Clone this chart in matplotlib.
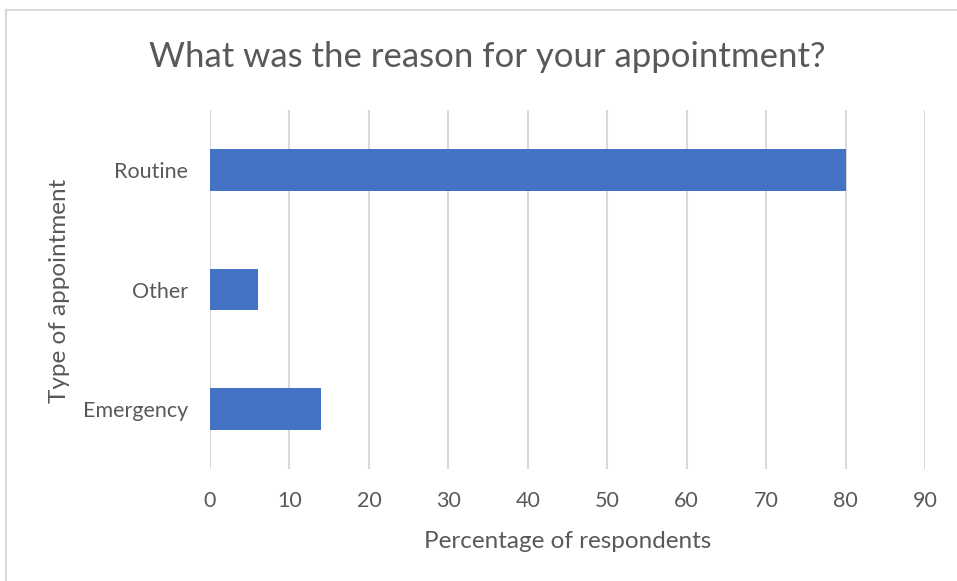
import matplotlib
matplotlib.use("Agg")
import matplotlib.pyplot as plt
from matplotlib.lines import Line2D

categories = ["Emergency", "Other", "Routine"]
values = [14, 6, 80]
xticks = [0, 10, 20, 30, 40, 50, 60, 70, 80, 90]

plt.rcParams['font.family'] = ['Lato', 'DejaVu Sans']
TXT = '#595959'

W, H = 957, 581
fig = plt.figure(figsize=(W / 100, H / 100), dpi=100)
ax = fig.add_axes([210 / W, 1 - 469 / H, (925 - 210) / W, (469 - 110) / H])

ax.barh(range(len(categories)), values, height=0.35, color='#4472C4', zorder=3)
ax.set_xlim(0, 90)
ax.set_ylim(-0.5, len(categories) - 0.5)
ax.set_xticks(xticks)
ax.set_yticks(range(len(categories)))
ax.set_yticklabels(categories)
ax.grid(axis='x', color='#D9D9D9', linewidth=1.5, zorder=0)
for s in ax.spines.values():
    s.set_visible(False)
ax.tick_params(axis='both', length=0, labelsize=15.5, colors=TXT)
ax.tick_params(axis='x', pad=16)
ax.tick_params(axis='y', pad=16)

fig.text(568 / W, 1 - 548 / H, "Percentage of respondents", fontsize=17.5,
         color=TXT, ha='center', va='baseline')
fig.text(60 / W, 1 - 291 / H, "Type of appointment", rotation=90, fontsize=17.5,
         color=TXT, ha='center', va='center')
fig.text(487 / W, 1 - 67 / H, "What was the reason for your appointment?",
         fontsize=25, color=TXT, ha='center', va='baseline')

# outer chart border (left and top visible)
fig.add_artist(Line2D([6 / W, 6 / W], [0, 1 - 10 / H], transform=fig.transFigure,
                      color='#D9D9D9', linewidth=1.5))
fig.add_artist(Line2D([6 / W, 1], [1 - 10 / H, 1 - 10 / H], transform=fig.transFigure,
                      color='#D9D9D9', linewidth=1.5))

fig.savefig("out.png", dpi=100)
